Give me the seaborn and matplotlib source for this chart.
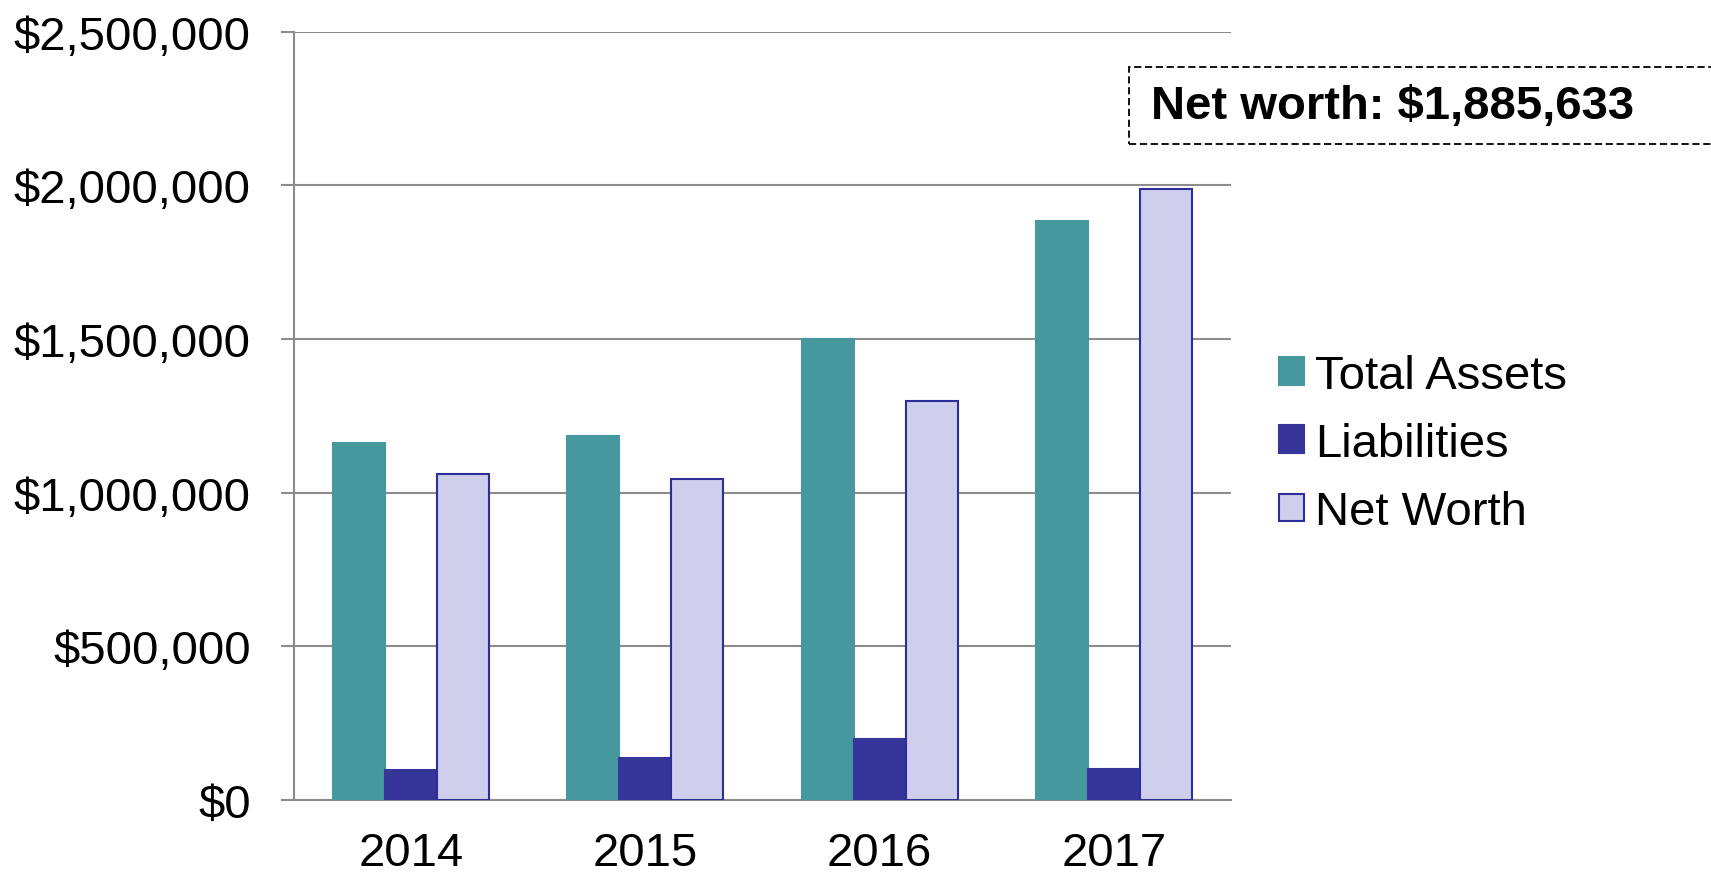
import matplotlib
matplotlib.use("Agg")
import matplotlib.pyplot as plt
from matplotlib.patches import Patch, Rectangle
from matplotlib.ticker import FuncFormatter
import seaborn as sns
import pandas as pd

# ---- data ----
years = ["2014", "2015", "2016", "2017"]
series_names = ["Total Assets", "Liabilities", "Net Worth"]
total_assets = [1162000, 1185000, 1500000, 1885633]
liabilities = [99000, 138000, 199000, 100000]
net_worth = [1062000, 1044000, 1297000, 1987000]
y_ticks = [0, 500000, 1000000, 1500000, 2000000, 2500000]
annotation_text = "Net worth: $1,885,633"

fill_colors = ["#46979E", "#35359A", "#CECFEC"]
edge_colors = ["#46979E", "#35359A", "#2E2E99"]

rows = []
for name, vals in zip(series_names, [total_assets, liabilities, net_worth]):
    for y, v in zip(years, vals):
        rows.append({"Year": y, "Series": name, "Value": v})
df = pd.DataFrame(rows)

sns.set_theme(style="white")
plt.rcParams["font.family"] = ["Liberation Sans", "DejaVu Sans"]
plt.rcParams["text.color"] = "black"

fig = plt.figure(figsize=(17.11, 8.78), dpi=100)
ax = fig.add_axes([294 / 1711, 1 - 801 / 878, (1231 - 294) / 1711, (801 - 32.7) / 878])

sns.barplot(data=df, x="Year", y="Value", hue="Series", hue_order=series_names,
            palette=fill_colors, width=0.667, gap=0, saturation=1, legend=False,
            ax=ax, zorder=3)

for cont, ec in zip(ax.containers, edge_colors):
    for bar in cont:
        bar.set_edgecolor(ec)
        bar.set_linewidth(1.5)

grid_c = "#8C8C8C"
ax.set_ylim(y_ticks[0], y_ticks[-1])
ax.set_xlim(-0.5, len(years) - 0.5)
ax.set_yticks(y_ticks)
ax.yaxis.set_major_formatter(FuncFormatter(lambda v, p: f"${v:,.0f}"))
ax.grid(axis="y", color=grid_c, linewidth=1.5, zorder=0)
ax.set_axisbelow(True)
ax.set_xlabel("")
ax.set_ylabel("")

for s in ["top", "right"]:
    ax.spines[s].set_visible(False)
for s in ["left", "bottom"]:
    ax.spines[s].set_color(grid_c)
    ax.spines[s].set_linewidth(1.5)

ax.set_xticks([i - 0.5 for i in range(len(years) + 1)], minor=True)
ax.tick_params(axis="x", which="major", length=0, pad=22.5, labelsize=34, labelcolor="black")
ax.tick_params(axis="x", which="minor", length=11, width=1.5, color=grid_c, direction="out")
ax.tick_params(axis="y", which="major", length=9.4, width=1.5, color=grid_c, direction="out",
               pad=21.6, labelsize=34, labelcolor="black", left=True)

handles = [Patch(facecolor=fc, edgecolor=ec, linewidth=1.5) for fc, ec in zip(fill_colors, edge_colors)]
fig.legend(handles, series_names, loc="center left", bbox_to_anchor=(1279 / 1711, 1 - 445 / 878),
           frameon=False, fontsize=34, handlelength=0.52, handleheight=0.52,
           handletextpad=0.24, labelspacing=0.51, borderpad=0, borderaxespad=0,
           labelcolor="black")

rect = Rectangle((1129 / 1711, 1 - 145 / 878), 0.5, 77 / 878, transform=fig.transFigure,
                 facecolor="white", edgecolor="black", linestyle=(0, (4, 2)), linewidth=1.3,
                 zorder=5)
fig.patches.append(rect)
fig.text(1151 / 1711, 1 - 107 / 878, annotation_text, fontsize=34, fontweight="bold",
         va="center", ha="left", color="black", zorder=6)

fig.savefig("out.png", dpi=100)
